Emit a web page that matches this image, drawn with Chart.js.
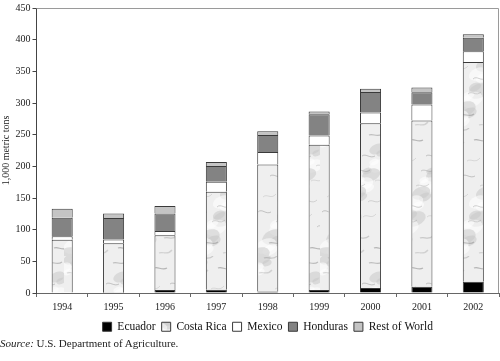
<!DOCTYPE html>
<html><head><meta charset="utf-8">
<script src="https://cdn.jsdelivr.net/npm/chart.js@4/dist/chart.umd.min.js"></script>
<style>
html,body{margin:0;padding:0;background:#fff;}
#wrap{position:relative;width:500px;height:361px;}
#src{position:absolute;left:0;top:337px;font:11px "Liberation Serif",serif;color:#222;white-space:nowrap;}
</style></head>
<body>
<div id="wrap">
<canvas id="c" width="500" height="361"></canvas>
<div id="src"><i>Source:</i> U.S. Department of Agriculture.</div>
</div>
<script>
const years = ['1994','1995','1996','1997','1998','1999','2000','2001','2002'];
const ecuador   = [0, 0.5, 4.7, 5, 2.5, 4.7, 7.8, 10, 17.8];
const costaRica = [84, 78, 86.3, 155, 200.5, 229.3, 260.2, 262.5, 346.9];
const mexico    = [5.5, 5.8, 7, 15.6, 19.5, 14.5, 17, 25, 17.1];
const honduras  = [29.5, 34, 27.6, 25, 27, 33.8, 32.2, 19.5, 21.2];
const restWorld = [14, 7.2, 11.9, 6.4, 5.8, 4.2, 5.3, 7.5, 5.4];
const yTicks = [0,50,100,150,200,250,300,350,400,450];

function marble(){
  const W = 64, H = 128;
  const c = document.createElement('canvas'); c.width = W; c.height = H;
  const g = c.getContext('2d');
  g.fillStyle = '#efefef'; g.fillRect(0,0,W,H);
  // soft blotches
  for(let i=0;i<26;i++){
    const x = (i*37+11)%W, y = (i*53+7)%H, r = 3 + (i%5);
    g.fillStyle = 'rgba(' + (i%2? '255,255,255':'200,200,200') + ',0.55)';
    g.beginPath(); g.ellipse(x, y, r*1.6, r, -0.4, 0, Math.PI*2); g.fill();
  }
  // grey veins
  for(let i=0;i<22;i++){
    const x = (i*29+3)%W, y = (i*41+17)%H;
    g.strokeStyle = 'rgba(120,120,120,' + (0.25 + 0.08*(i%4)) + ')';
    g.lineWidth = (i%3===0) ? 1.2 : 0.8;
    g.beginPath();
    g.moveTo(x, y);
    g.bezierCurveTo(x+4, y-2-(i%3), x+8, y+3, x+13, y-3+(i%4));
    g.stroke();
  }
  return g.createPattern(c, 'repeat');
}

const border = '#3a3a3a';
const frame = {
  id:'frame',
  afterDraw(ch){
    const a = ch.chartArea, ctx = ch.ctx;
    ctx.save(); ctx.strokeStyle = '#9a9a9a'; ctx.lineWidth = 1;
    ctx.beginPath();
    ctx.moveTo(a.left, a.top+0.5); ctx.lineTo(a.right-0.5, a.top+0.5); ctx.lineTo(a.right-0.5, a.bottom);
    ctx.stroke(); ctx.restore();
  }
};

new Chart(document.getElementById('c'), {
  type:'bar',
  data:{
    labels: years,
    datasets:[
      {label:'Ecuador', data:ecuador, backgroundColor:'#000000', borderColor:border, borderWidth:1},
      {label:'Costa Rica', data:costaRica, backgroundColor:marble(), borderColor:border, borderWidth:1},
      {label:'Mexico', data:mexico, backgroundColor:'#ffffff', borderColor:border, borderWidth:1},
      {label:'Honduras', data:honduras, backgroundColor:'#838383', borderColor:border, borderWidth:1},
      {label:'Rest of World', data:restWorld, backgroundColor:'#c4c4c4', borderColor:border, borderWidth:1}
    ]
  },
  options:{
    responsive:false, animation:false,
    layout:{padding:{top:3,right:1,left:0,bottom:18.5}},
    datasets:{bar:{barPercentage:0.41, categoryPercentage:1}},
    plugins:{
      tooltip:{enabled:false},
      legend:{
        position:'bottom', fullSize:false,
        labels:{boxWidth:9, boxHeight:9, padding:6, color:'#111',
          font:{family:'"Liberation Serif", serif', size:11.5}}
      }
    },
    scales:{
      x:{
        stacked:true, offset:true,
        grid:{display:true, offset:true, drawOnChartArea:false, drawTicks:true, tickLength:4, color:'#666'},
        border:{color:'#666'},
        ticks:{padding:4, color:'#222', font:{family:'"Liberation Serif", serif', size:10}, maxRotation:0},
        afterFit(s){ s.height = 22; }
      },
      y:{
        stacked:true, min:0, max:450,
        afterBuildTicks(s){ s.ticks = yTicks.map(v=>({value:v})); },
        grid:{display:true, drawOnChartArea:false, drawTicks:true, tickLength:4, color:'#444'},
        border:{color:'#444'},
        ticks:{padding:2, color:'#222', font:{family:'"Liberation Serif", serif', size:10}},
        title:{display:true, text:'1,000 metric tons', color:'#222', padding:0,
          font:{family:'"Liberation Serif", serif', size:10}},
        afterFit(s){ s.width = 36.5; }
      }
    }
  },
  plugins:[frame]
});
</script>
</body></html>
